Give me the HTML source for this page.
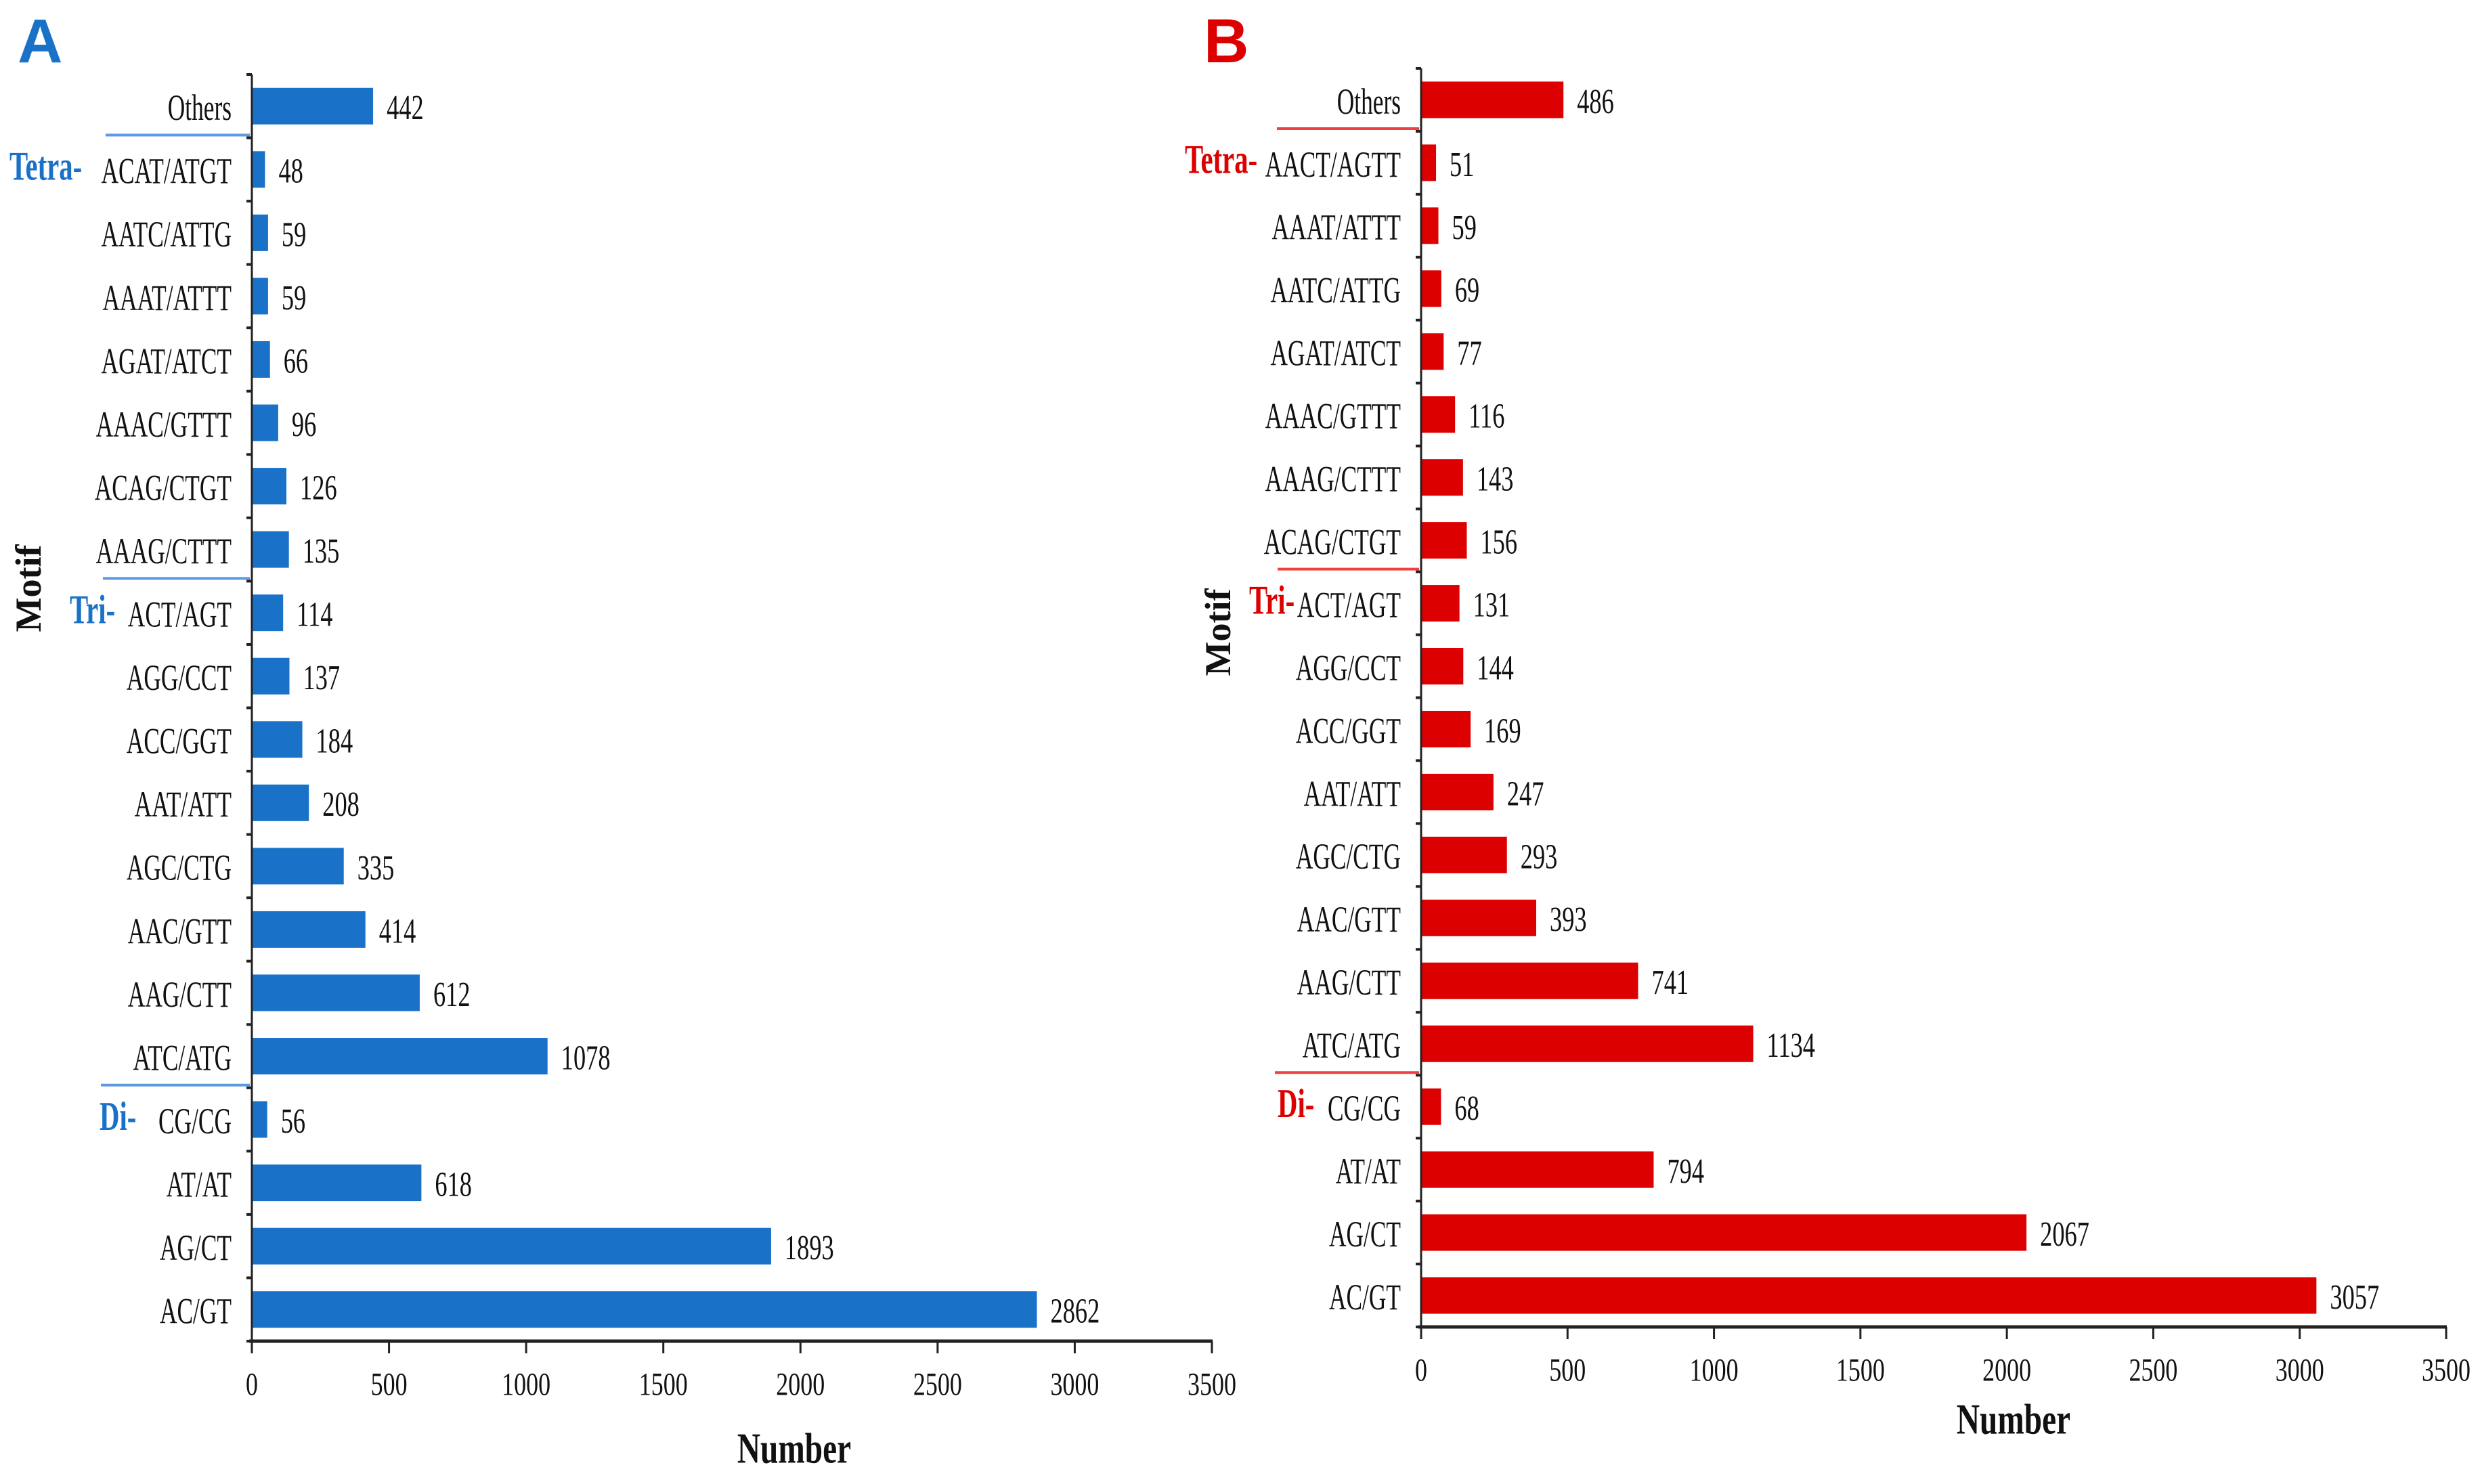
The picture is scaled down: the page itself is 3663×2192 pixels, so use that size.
<!DOCTYPE html>
<html><head><meta charset="utf-8"><style>
html,body{margin:0;padding:0;background:#fff;}
svg{display:block;}
</style></head><body>
<svg id="chart" width="3663" height="2192" viewBox="0 0 3663 2192" xmlns="http://www.w3.org/2000/svg" style="font-family:'Liberation Serif',serif">
</svg>
<script>
const categoriesA = ["Others","ACAT/ATGT","AATC/ATTG","AAAT/ATTT","AGAT/ATCT","AAAC/GTTT","ACAG/CTGT","AAAG/CTTT","ACT/AGT","AGG/CCT","ACC/GGT","AAT/ATT","AGC/CTG","AAC/GTT","AAG/CTT","ATC/ATG","CG/CG","AT/AT","AG/CT","AC/GT"];
const valuesA = [442,48,59,59,66,96,126,135,114,137,184,208,335,414,612,1078,56,618,1893,2862];
const categoriesB = ["Others","AACT/AGTT","AAAT/ATTT","AATC/ATTG","AGAT/ATCT","AAAC/GTTT","AAAG/CTTT","ACAG/CTGT","ACT/AGT","AGG/CCT","ACC/GGT","AAT/ATT","AGC/CTG","AAC/GTT","AAG/CTT","ATC/ATG","CG/CG","AT/AT","AG/CT","AC/GT"];
const valuesB = [486,51,59,69,77,116,143,156,131,144,169,247,293,393,741,1134,68,794,2067,3057];
const xTicks = [0,500,1000,1500,2000,2500,3000,3500];
const groupNames = ["Tetra-","Tri-","Di-"];
const groupStarts = [1,8,16];

const NS = "http://www.w3.org/2000/svg";
const svg = document.getElementById("chart");
function el(tag, attrs, parent){
  const e = document.createElementNS(NS, tag);
  for (const k in attrs) e.setAttribute(k, attrs[k]);
  (parent||svg).appendChild(e);
  return e;
}
function txt(x,y,s,size,anchor,fill,weight,sx,parent){
  const t = el("text",{transform:`translate(${x},${y}) scale(${sx},1)`,"font-size":size,"text-anchor":anchor,fill:fill,"font-weight":weight,"dominant-baseline":"central"},parent);
  t.textContent = s;
  return t;
}

function drawPanel(cfg){
  const g = el("g",{});
  
  
  const x0 = cfg.x0, x1 = cfg.x1, top = cfg.top, bottom = cfg.bottom;
  const xs = v => x0 + (v/3500)*(x1-x0);
  const step = (bottom-top)/cfg.cats.length;
  const yc = i => top + step*(i+0.5);
  cfg.vals.forEach((v,i)=>{
    const r = el("rect",{x:x0,y:yc(i)-27,width:xs(v)-x0,height:54,fill:cfg.color},g);
    
    
    const vl = txt(xs(v)+20,yc(i)+2,String(v),52,"start","#111","normal",0.7,g);
    
    
    const cl = txt(cfg.labelRight,yc(i)+2,cfg.cats[i],54,"end","#111","normal",0.655,g);
    
    
  });
  const ya = el("line",{x1:x0,y1:top,x2:x0,y2:bottom,stroke:"#222","stroke-width":3},g);
  
  
  for(let i=0;i<=cfg.cats.length;i++){
    el("line",{x1:x0-8,y1:top+step*i,x2:x0,y2:top+step*i,stroke:"#222","stroke-width":4},g);
  }
  const xa = el("line",{x1:x0-4,y1:bottom,x2:x1+1,y2:bottom,stroke:"#222","stroke-width":5},g);
  
  
  xTicks.forEach(t=>{
    el("line",{x1:xs(t),y1:bottom,x2:xs(t),y2:bottom+18,stroke:"#222","stroke-width":3},g);
    const tl = txt(xs(t),cfg.tickY,String(t),48,"middle","#111","normal",0.75,g);
    
    
  });
  const xt = txt(cfg.numX,cfg.numY,"Number",64,"middle","#111","bold",0.74,g);
  
  
  const yt = el("text",{transform:`translate(${cfg.motifX},${cfg.motifY}) rotate(-90)`,"font-size":54,"text-anchor":"middle","font-weight":"bold",fill:"#111","dominant-baseline":"central"},g);
  yt.textContent = "Motif";
  
  
  groupStarts.forEach((s,k)=>{
    const yb = top+step*s;
    const ln = el("line",{x1:cfg.lineX[k],y1:yb-4,x2:x0-3,y2:yb-4,stroke:cfg.lineColor,"stroke-width":4},g);
    
    
    const gl = txt(cfg.groupX[k],yc(s)-4,groupNames[k],60,"start",cfg.color,"bold",0.68,g);
    
    
  });
  const pl = el("text",{x:cfg.letterX,y:92,"font-size":92,"font-weight":"bold",fill:cfg.color,style:"font-family:'Liberation Sans',sans-serif"},g);
  pl.textContent = cfg.letter;
  
  
}

drawPanel({name:"chart-a",cats:categoriesA,vals:valuesA,color:"#1a72c8",lineColor:"#5b9ae0",
  x0:372,x1:1790,top:110,bottom:1981,labelRight:342,tickY:2045,numX:1173,numY:2140,motifX:42,motifY:869,
  lineX:[156,152,149],groupX:[14,103,147],letter:"A",letterX:26});
drawPanel({name:"chart-b",cats:categoriesB,vals:valuesB,color:"#dd0000",lineColor:"#f04040",
  x0:2099,x1:3613,top:101,bottom:1960,labelRight:2069,tickY:2024,numX:2974,numY:2097,motifX:1799,motifY:934,
  lineX:[1886,1887,1883],groupX:[1750,1845,1887],letter:"B",letterX:1778});
</script>
</body></html>
